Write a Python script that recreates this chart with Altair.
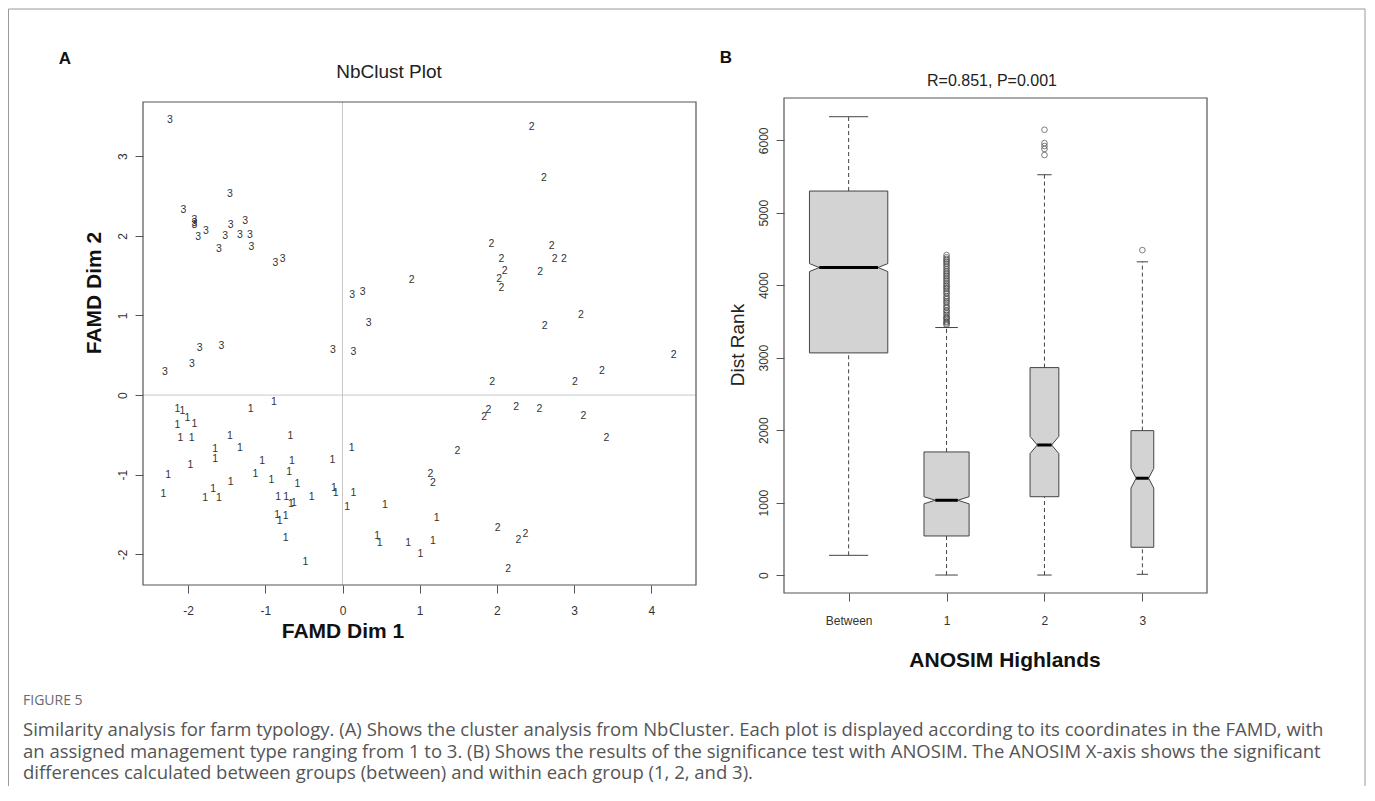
import altair as alt
import pandas as pd
import numpy as np

# ---------------- Panel A: NbClust scatter (FAMD coordinates) ----------------
cluster1 = [(-2.14, -0.18), (-2.075, -0.20), (-2.01, -0.29), (-1.92, -0.365), (-2.14, -0.38),
            (-2.10, -0.545), (-1.955, -0.545), (-1.19, -0.17), (-0.89, -0.09), (-1.46, -0.515),
            (-0.675, -0.52), (-1.65, -0.68), (-1.65, -0.80), (-1.33, -0.67), (-1.97, -0.88),
            (-2.26, -1.0), (-2.32, -1.24), (-1.04, -0.83), (-0.655, -0.83), (-1.13, -0.99),
            (-0.69, -0.96), (-0.92, -1.07), (-0.585, -1.12), (-1.45, -1.09), (-1.675, -1.185),
            (-1.60, -1.29), (-1.78, -1.29), (-0.835, -1.28), (-0.73, -1.28), (-0.67, -1.37),
            (-0.63, -1.36), (-0.40, -1.28), (-0.845, -1.51), (-0.815, -1.58), (-0.735, -1.52),
            (-0.735, -1.79), (-0.48, -2.09), (0.12, -0.66), (-0.13, -0.81), (-0.11, -1.17),
            (-0.09, -1.23), (0.14, -1.235), (0.06, -1.41), (0.55, -1.38), (1.22, -1.54),
            (0.45, -1.77), (0.48, -1.86), (0.85, -1.855), (1.17, -1.83), (1.01, -2.0)]
cluster2 = [(2.45, 3.36), (2.61, 2.73), (1.93, 1.90), (2.71, 1.87), (2.06, 1.71), (2.75, 1.71),
            (2.87, 1.71), (2.10, 1.56), (2.03, 1.46), (2.06, 1.34), (2.56, 1.55), (0.895, 1.45),
            (3.09, 1.0), (2.62, 0.87), (4.29, 0.50), (3.36, 0.305), (3.01, 0.16), (1.94, 0.17),
            (1.89, -0.19), (1.835, -0.28), (2.25, -0.15), (2.55, -0.17), (3.12, -0.26),
            (3.42, -0.545), (1.49, -0.70), (1.14, -0.99), (1.17, -1.10), (2.01, -1.675),
            (2.28, -1.82), (2.37, -1.75), (2.145, -2.18)]
cluster3 = [(-2.235, 3.46), (-1.46, 2.52), (-2.06, 2.33), (-1.92, 2.20), (-1.92, 2.16),
            (-1.92, 2.13), (-1.87, 1.99), (-1.77, 2.06), (-1.52, 2.0), (-1.45, 2.14),
            (-1.26, 2.18), (-1.33, 2.01), (-1.20, 2.01), (-1.18, 1.86), (-1.60, 1.83),
            (-0.87, 1.66), (-0.775, 1.71), (0.125, 1.26), (0.26, 1.29), (0.34, 0.90),
            (-0.125, 0.565), (0.14, 0.54), (-1.85, 0.59), (-1.57, 0.61), (-1.95, 0.39),
            (-2.30, 0.285)]
dim1_ticks = [-2, -1, 0, 1, 2, 3, 4]
dim2_ticks = [-2, -1, 0, 1, 2, 3]

# ---------------- Panel B: ANOSIM boxplot statistics ----------------
groups = ["Between", "1", "2", "3"]
group_n = [4151, 1378, 561, 351]
whisker_low = [272, 0, 0, 10]
q1 = [3066, 539, 1081, 383]
median = [4244, 1032, 1795, 1336]
q3 = [5300, 1699, 2863, 1993]
whisker_high = [6326, 3416, 5525, 4323]
notch_tip = [0.75, 0.5, 0.5, 0.55]
outliers_1 = [3453, 3470, 3489, 3502, 3530, 3548, 3561, 3590, 3612, 3640, 3655, 3688, 3702,
              3731, 3760, 3778, 3805, 3826, 3850, 3882, 3901, 3925, 3950, 3968, 3990, 4012,
              4035, 4060, 4081, 4105, 4128, 4150, 4172, 4195, 4220, 4246, 4270, 4295, 4318,
              4340, 4362, 4385, 4416]
outliers_2 = [6146, 5962, 5921, 5880, 5797]
outliers_3 = [4485]
rank_ticks = [0, 1000, 2000, 3000, 4000, 5000, 6000]

caption_head = "FIGURE 5"
caption_lines = [
    "Similarity analysis for farm typology. (A) Shows the cluster analysis from NbCluster. Each plot is displayed according to its coordinates in the FAMD, with",
    "an assigned management type ranging from 1 to 3. (B) Shows the results of the significance test with ANOSIM. The ANOSIM X-axis shows the significant",
    "differences calculated between groups (between) and within each group (1, 2, and 3).",
]

# ---------------- tables ----------------
rows = []
for lab, pts in (("1", cluster1), ("2", cluster2), ("3", cluster3)):
    for (a, b) in pts:
        rows.append({"dim1": a, "dim2": b, "cluster": lab})
scatter_df = pd.DataFrame(rows)

nmax = max(group_n)
box_rows, med_rows, wh_rows, st_rows = [], [], [], []
for i, g in enumerate(groups):
    pos = i + 1
    hw = 0.4 * np.sqrt(group_n[i] / nmax)
    hn = 1.58 * (q3[i] - q1[i]) / np.sqrt(group_n[i])
    for yv, f in [(q1[i], 1.0), (median[i] - hn, 1.0), (median[i], notch_tip[i]),
                  (median[i] + hn, 1.0), (q3[i], 1.0)]:
        box_rows.append({"group": g, "rank": yv, "xl": pos - hw * f, "xr": pos + hw * f})
    med_rows.append({"xl": pos - hw * notch_tip[i], "xr": pos + hw * notch_tip[i], "y": median[i]})
    wh_rows.append({"pos": pos, "ya": q3[i], "yb": whisker_high[i]})
    wh_rows.append({"pos": pos, "ya": whisker_low[i], "yb": q1[i]})
    st_rows.append({"xl": pos - hw / 2, "xr": pos + hw / 2, "y": whisker_high[i]})
    st_rows.append({"xl": pos - hw / 2, "xr": pos + hw / 2, "y": whisker_low[i]})
box_df = pd.DataFrame(box_rows)
med_df = pd.DataFrame(med_rows)
wh_df = pd.DataFrame(wh_rows)
st_df = pd.DataFrame(st_rows)
out_df = pd.DataFrame({
    "pos": [2] * len(outliers_1) + [3] * len(outliers_2) + [4] * len(outliers_3),
    "val": outliers_1 + outliers_2 + outliers_3,
})
one = pd.DataFrame({"a": [0]})

RF = "Liberation Sans"
FRAME = "#555555"


def label(text, px, py, **kw):
    return alt.Chart(pd.DataFrame({"t": [text]})).mark_text(**kw).encode(
        text="t:N", x=alt.value(px), y=alt.value(py))


def frame(w, top, h):
    return alt.Chart(one).mark_rect(fillOpacity=0, stroke=FRAME, strokeWidth=1.2).encode(
        x=alt.value(0), x2=alt.value(w), y=alt.value(top), y2=alt.value(h))


def vrule(px, y0, y1):
    return alt.Chart(one).mark_rule(color="#9a9a9a", strokeWidth=1).encode(
        x=alt.value(px), y=alt.value(y0), y2=alt.value(y1))


# ---------------- Panel A ----------------
WA, HA = 553, 483
sxA = alt.Scale(domain=[-2.585, 4.58], nice=False, zero=False)
syA = alt.Scale(domain=[-2.385, 3.68], nice=False, zero=False)
axA_x = alt.Axis(values=dim1_ticks, labelExpr="'' + datum.value", grid=False, domain=False,
                 tickSize=8, tickColor=FRAME, labelFont=RF, labelFontSize=12,
                 labelColor="#333333", labelPadding=12, title=None)
axA_y = alt.Axis(values=dim2_ticks, labelExpr="'' + datum.value", grid=False, domain=False,
                 tickSize=8, tickColor=FRAME, labelFont=RF, labelFontSize=12,
                 labelColor="#333333", labelPadding=6, labelAngle=270, title=None)

zero_df = pd.DataFrame({"v": [0]})
zx = alt.Chart(zero_df).mark_rule(color="#c8c8c8", strokeWidth=1).encode(
    x=alt.X("v:Q", scale=sxA, axis=axA_x))
zy = alt.Chart(zero_df).mark_rule(color="#c8c8c8", strokeWidth=1).encode(
    y=alt.Y("v:Q", scale=syA, axis=axA_y))
pts = alt.Chart(scatter_df).mark_text(font=RF, fontSize=10.5, color="#333333").encode(
    x=alt.X("dim1:Q", scale=sxA, axis=axA_x),
    y=alt.Y("dim2:Q", scale=syA, axis=axA_y),
    text="cluster:N",
)

# page-level decorations, positioned relative to panel A origin (143, 101)
border_top = alt.Chart(one).mark_rule(color="#9a9a9a", strokeWidth=1).encode(
    x=alt.value(-134.5), x2=alt.value(1222), y=alt.value(-93))
cap = [label(caption_head, -120, 599, align="left", baseline="middle", font="Open Sans",
             fontSize=14, color="#6a6a6a")]
for k, line in enumerate(caption_lines):
    cap.append(label(line, -120, 628 + 21.5 * k, align="left", baseline="middle",
                     font="Open Sans", fontSize=18.5, color="#555555"))

panelA = alt.layer(
    zx, zy, pts, frame(WA, 0, HA),
    label("NbClust Plot", 246, -30, font=RF, fontSize=19, color="#222222", baseline="middle"),
    label("A", -78, -43, font=RF, fontSize=17, fontWeight="bold", color="#111111", baseline="middle"),
    label("FAMD Dim 1", 200, 530, font=RF, fontSize=21, fontWeight="bold", color="#111111", baseline="middle"),
    label("FAMD Dim 2", -48, 191, font=RF, fontSize=21, fontWeight="bold", color="#111111",
          baseline="middle", angle=270),
    vrule(-134.5, -93, 684), vrule(1222, -93, 684), border_top,
    *cap,
).properties(width=WA, height=HA)

# ---------------- Panel B ----------------
WB, HB = 423, 491
sxB = alt.Scale(domain=[0.34, 4.66], nice=False, zero=False)
syB = alt.Scale(domain=[-248, 6529], nice=False, zero=False)
lab_expr = "[" + ",".join("'%s'" % g for g in groups) + "][datum.value - 1]"
axB_x = alt.Axis(values=[1, 2, 3, 4], labelExpr=lab_expr, grid=False, domain=False, tickSize=8,
                 tickColor=FRAME, labelFont=RF, labelFontSize=12, labelColor="#333333",
                 labelPadding=14, title=None)
axB_y = alt.Axis(values=rank_ticks, labelExpr="'' + datum.value", grid=False, domain=False,
                 tickSize=8, tickColor=FRAME, labelFont=RF, labelFontSize=12,
                 labelColor="#333333", labelPadding=6, labelAngle=270, title=None)

boxes = alt.Chart(box_df).mark_area(orient="horizontal", fill="#d3d3d3", stroke="#444444",
                                    strokeWidth=1, interpolate="linear").encode(
    y=alt.Y("rank:Q", scale=syB, axis=axB_y),
    x=alt.X("xl:Q", scale=sxB, axis=axB_x, stack=None),
    x2="xr:Q",
    detail="group:N",
)
whisk = alt.Chart(wh_df).mark_rule(color="#444444", strokeWidth=1, strokeDash=[4, 3]).encode(
    x=alt.X("pos:Q", scale=sxB, axis=axB_x),
    y=alt.Y("ya:Q", scale=syB, axis=axB_y), y2="yb:Q")
staple = alt.Chart(st_df).mark_rule(color="#444444", strokeWidth=1).encode(
    x=alt.X("xl:Q", scale=sxB, axis=axB_x), x2="xr:Q",
    y=alt.Y("y:Q", scale=syB, axis=axB_y))
meds = alt.Chart(med_df).mark_rule(color="#000000", strokeWidth=3).encode(
    x=alt.X("xl:Q", scale=sxB, axis=axB_x), x2="xr:Q",
    y=alt.Y("y:Q", scale=syB, axis=axB_y))
outs = alt.Chart(out_df).mark_point(shape="circle", filled=False, size=32, color="#333333",
                                     strokeWidth=0.9).encode(
    x=alt.X("pos:Q", scale=sxB, axis=axB_x),
    y=alt.Y("val:Q", scale=syB, axis=axB_y))

panelB = alt.layer(
    whisk, boxes, staple, meds, outs, frame(WB, -4, HB),
    label("R=0.851, P=0.001", 208, -21, font=RF, fontSize=16, color="#222222", baseline="middle"),
    label("B", -58, -44, font=RF, fontSize=17, fontWeight="bold", color="#111111", baseline="middle"),
    label("ANOSIM Highlands", 221, 559, font=RF, fontSize=21, fontWeight="bold", color="#111111",
          baseline="middle"),
    label("Dist Rank", -46, 243, font=RF, fontSize=19, color="#222222", baseline="middle", angle=270),
).properties(width=WB, height=HB)

chart = alt.hconcat(panelA, panelB, spacing=88, bounds="flush").properties(
    padding=0
).configure_view(strokeWidth=0)

chart.save("out.html", embed_options={"renderer": "svg", "actions": False})
